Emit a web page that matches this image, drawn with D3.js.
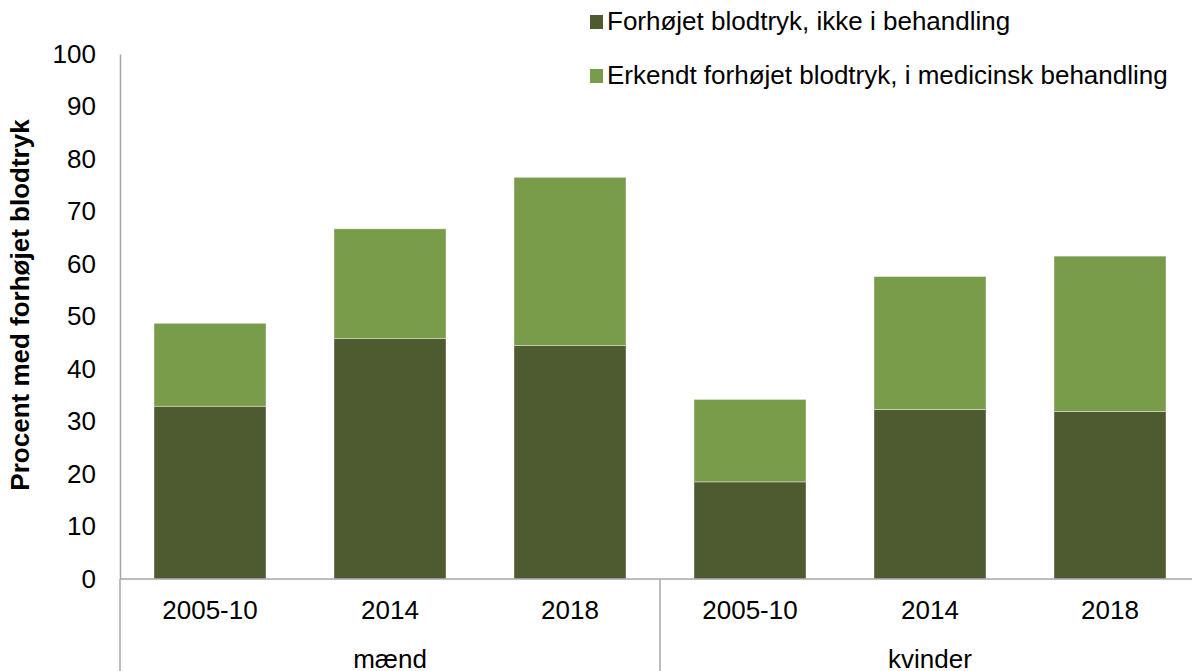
<!DOCTYPE html>
<html>
<head>
<meta charset="utf-8">
<script src="https://d3js.org/d3.v7.min.js"></script>
<style>
  body { margin: 0; background: #fff; }
  text { font-family: "Liberation Sans", Arial, sans-serif; fill: #000; }
</style>
</head>
<body>
<svg id="chart" width="1192" height="671"></svg>
<script>
// data
var groups = ["mænd", "kvinder"];
var years = ["2005-10", "2014", "2018"];
var seriesNames = ["Forhøjet blodtryk, ikke i behandling", "Erkendt forhøjet blodtryk, i medicinsk behandling"];
var colors = ["#4e5b31", "#799c4a"];
// dark part (not treated) and light part (in treatment), per group then year
var ikkeBehandling = [32.9, 45.8, 44.5, 18.5, 32.3, 31.9];
var iBehandling = [15.8, 20.9, 32.0, 15.7, 25.3, 29.6];
var yTicks = [0, 10, 20, 30, 40, 50, 60, 70, 80, 90, 100];
var yTitle = "Procent med forhøjet blodtryk";

var svg = d3.select("#chart");

var plotLeft = 120, plotRight = 1200, plotTop = 54, plotBottom = 579;
var fontSize = "26px";

// build rows
var rows = [];
groups.forEach(function(g, gi) {
    years.forEach(function(yr, yi) {
        var i = gi * years.length + yi;
        rows.push({key: g + "|" + yr, group: g, year: yr, s0: ikkeBehandling[i], s1: iBehandling[i]});
    });
});

var x = d3.scaleBand()
    .domain(rows.map(function(d) { return d.key; }))
    .range([plotLeft, plotRight])
    .paddingInner(0.378)
    .paddingOuter(0.189);

var y = d3.scaleLinear().domain([0, 100]).range([plotBottom, plotTop]);

var stacked = d3.stack().keys(["s0", "s1"])(rows);

// bars
svg.append("g").selectAll("g")
    .data(stacked)
    .enter().append("g")
    .attr("fill", function(d, i) { return colors[i]; })
    .selectAll("rect")
    .data(function(d) { return d; })
    .enter().append("rect")
    .attr("x", function(d) { return x(d.data.key); })
    .attr("width", x.bandwidth())
    .attr("y", function(d) { return y(d[1]); })
    .attr("height", function(d) { return y(d[0]) - y(d[1]); })
    .attr("stroke", "rgba(255,255,255,0.45)")
    .attr("stroke-width", 0.8);

// y axis
var axisCol = "#a6a6a6";
var yAxis = d3.axisLeft(y).tickValues(yTicks).tickSize(0).tickPadding(24);
var ya = svg.append("g")
    .attr("transform", "translate(" + plotLeft + ",0)")
    .call(yAxis);
ya.select(".domain").attr("stroke", axisCol).attr("stroke-width", 1.5);
ya.selectAll("text")
    .style("font-size", fontSize)
    .style("font-family", "'Liberation Sans', Arial, sans-serif")
    .attr("fill", "#000");

// x axis lines
svg.append("line")
    .attr("x1", plotLeft).attr("x2", plotRight)
    .attr("y1", plotBottom).attr("y2", plotBottom)
    .attr("stroke", axisCol).attr("stroke-width", 1.5);

var groupEdges = [0, years.length, rows.length];
svg.selectAll(".gsep")
    .data(groupEdges)
    .enter().append("line")
    .attr("class", "gsep")
    .attr("x1", function(d) { return plotLeft + d * x.step(); })
    .attr("x2", function(d) { return plotLeft + d * x.step(); })
    .attr("y1", plotBottom).attr("y2", 671)
    .attr("stroke", axisCol).attr("stroke-width", 1.5);

// year labels
svg.selectAll(".yr")
    .data(rows)
    .enter().append("text")
    .attr("class", "yr")
    .attr("x", function(d) { return x(d.key) + x.bandwidth() / 2; })
    .attr("y", 619)
    .attr("text-anchor", "middle")
    .style("font-size", fontSize)
    .text(function(d) { return d.year; });

// group labels
svg.selectAll(".grp")
    .data(groups)
    .enter().append("text")
    .attr("class", "grp")
    .attr("x", function(d, i) { return plotLeft + (i + 0.5) * years.length * x.step(); })
    .attr("y", 668)
    .attr("text-anchor", "middle")
    .style("font-size", fontSize)
    .text(function(d) { return d; });

// y title
svg.append("text")
    .attr("transform", "translate(29,305) rotate(-90)")
    .attr("text-anchor", "middle")
    .style("font-size", fontSize)
    .style("font-weight", "bold")
    .text(yTitle);

// legend
var legend = svg.append("g").attr("transform", "translate(590,0)");
var lg = legend.selectAll("g")
    .data(seriesNames)
    .enter().append("g")
    .attr("transform", function(d, i) { return "translate(0," + (30 + i * 54) + ")"; });
lg.append("rect")
    .attr("x", 0).attr("y", -15)
    .attr("width", 13).attr("height", 14)
    .attr("fill", function(d, i) { return colors[i]; });
lg.append("text")
    .attr("x", 17)
    .attr("y", 0)
    .style("font-size", fontSize)
    .text(function(d) { return d; });
</script>
</body>
</html>
